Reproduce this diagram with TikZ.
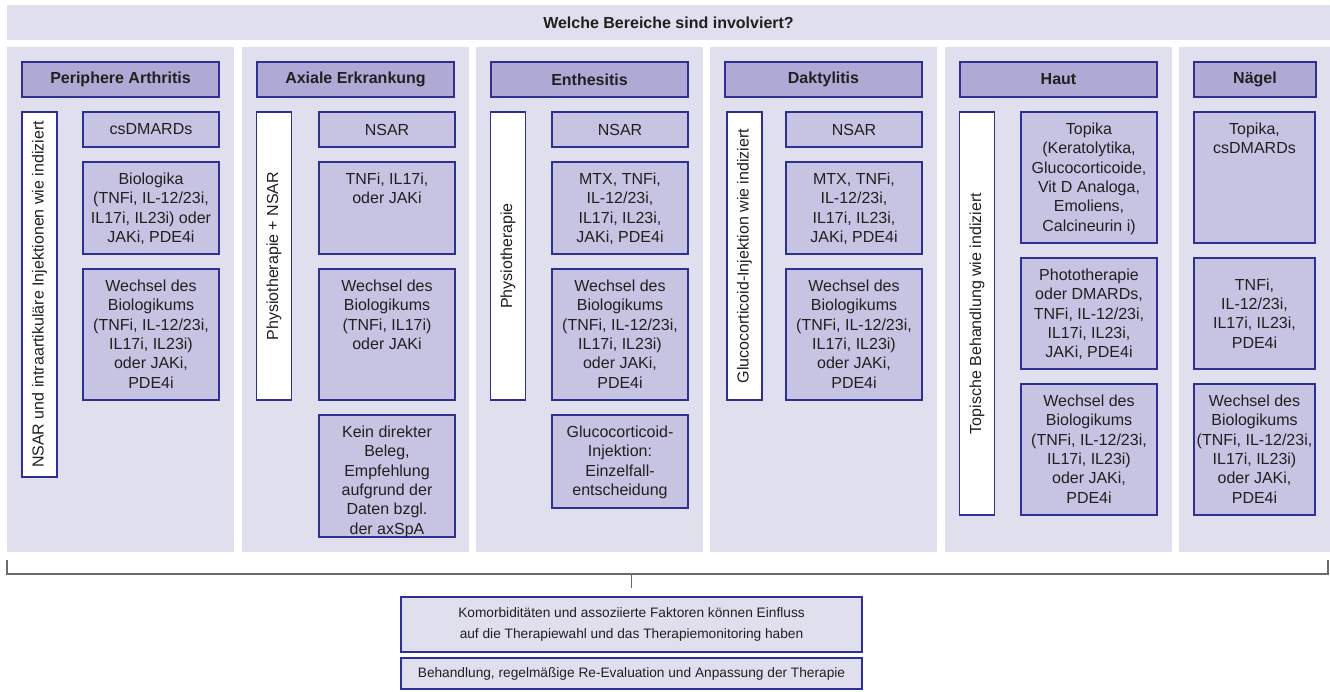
\documentclass[tikz,border=0pt]{standalone}
\usepackage{fontspec}
\setmainfont{Liberation Sans}
\definecolor{panelbg}{HTML}{DFDFEE}
\definecolor{headfill}{HTML}{AEAAD5}
\definecolor{cellfill}{HTML}{C6C4E2}
\definecolor{edgeblue}{HTML}{2E3192}
\definecolor{ink}{HTML}{231F20}
\definecolor{bracegray}{HTML}{6B6B6B}

\begin{document}
\begin{tikzpicture}[
    x=1pt, y=-1pt,
    every node/.style={font=\fontsize{16}{19.3}\selectfont, text=ink, align=center},
    % Column background
    panel/.style={rectangle, fill=panelbg, minimum width=227pt, minimum height=505pt,
                  inner sep=0pt},
    % Column header
    head/.style={rectangle, draw=edgeblue, line width=1.2pt, fill=headfill,
                 minimum width=197pt, minimum height=35pt, inner sep=0pt,
                 font=\fontsize{16}{19.3}\selectfont\bfseries},
    % Therapy cell
    cell/.style={rectangle, draw=edgeblue, line width=1.2pt, fill=cellfill,
                 minimum width=136pt, inner sep=0pt},
    celltext/.style={anchor=north, inner sep=0pt},
    % White side bar, text bottom to top
    sidebar/.style={rectangle, draw=edgeblue, line width=1.2pt, fill=white,
                    minimum height=35pt, inner sep=0pt, rotate=90},
    % Bottom notes
    note/.style={rectangle, draw=edgeblue, line width=1.2pt, fill=panelbg,
                 minimum width=461pt, inner sep=0pt,
                 font=\fontsize{13.7}{21.7}\selectfont},
    brace/.style={bracegray, line width=1.6pt},
    tick/.style={bracegray, line width=1pt}
]
\useasboundingbox (0,0) rectangle (1330,691);

% ========== Title ==========
\node[panel, minimum width=1323pt, minimum height=35pt,
      font=\fontsize{16}{19.3}\selectfont\bfseries] (title) at (668.5,22.5)
    {Welche Bereiche sind involviert?};

% ========== Columns ==========
\node[panel] (colpa) at (120.5,299.5) {};
\node[panel] (colax) at (355.5,299.5) {};
\node[panel] (colen) at (589.5,299.5) {};
\node[panel] (colda) at (823.5,299.5) {};
\node[panel] (colha) at (1058.5,299.5) {};
\node[panel, minimum width=151pt] (colna) at (1254.5,299.5) {};

% ========== Headers ==========
\node[head] (hpa) at (120.5,79.5) {Periphere Arthritis};
\node[head] (hax) at (355.5,79.5) {Axiale Erkrankung};
\node[head] (hen) at (589.5,79.5) {Enthesitis};
\node[head] (hda) at (823.5,79.5) {Daktylitis};
\node[head] (hha) at (1058.5,79.5) {Haut};
\node[head, minimum width=122pt] (hna) at (1255,79.5) {Nägel};

% ========== Side bars ==========
\node[sidebar, minimum width=365pt] (spa) at (39.5,294.5)
    {NSAR und intraartikuläre Injektionen wie indiziert};
\node[sidebar, minimum width=288pt] (sax) at (274,256) {Physiotherapie + NSAR};
\node[sidebar, minimum width=288pt] (sen) at (508,256) {Physiotherapie};
\node[sidebar, minimum width=288pt] (sda) at (744.5,256)
    {Glucocorticoid-Injektion wie indiziert};
\node[sidebar, minimum width=403pt] (sha) at (977,313.5)
    {Topische Behandlung wie indiziert};

% ========== Periphere Arthritis ==========
\node[cell, minimum height=35pt] (pa1) at (151,129.5) {csDMARDs};
\node[cell, minimum height=92pt] (pa2) at (151,208) {};
\node[celltext] (pa2t) at ([yshift=-11.4pt]pa2.north)
    {Biologika\\(TNFi, IL-12/23i,\\IL17i, IL23i) oder\\JAKi, PDE4i};
\node[cell, minimum height=131pt] (pa3) at (151,334.5) {};
\node[celltext] (pa3t) at ([yshift=-11.4pt]pa3.north)
    {Wechsel des\\Biologikums\\(TNFi, IL-12/23i,\\IL17i, IL23i)\\oder JAKi,\\PDE4i};

% ========== Axiale Erkrankung ==========
\node[cell, minimum height=35pt] (ax1) at (387,129.5) {NSAR};
\node[cell, minimum height=92pt] (ax2) at (387,208) {};
\node[celltext] (ax2t) at ([yshift=-11.4pt]ax2.north) {TNFi, IL17i,\\oder JAKi};
\node[cell, minimum height=131pt] (ax3) at (387,334.5) {};
\node[celltext] (ax3t) at ([yshift=-11.4pt]ax3.north)
    {Wechsel des\\Biologikums\\(TNFi, IL17i)\\oder JAKi};
\node[cell, minimum height=122pt] (ax4) at (387,476) {};
\node[celltext] (ax4t) at ([yshift=-11.4pt]ax4.north)
    {Kein direkter\\Beleg,\\Empfehlung\\aufgrund der\\Daten bzgl.\\der axSpA};

% ========== Enthesitis ==========
\node[cell, minimum height=35pt] (en1) at (620,129.5) {NSAR};
\node[cell, minimum height=92pt] (en2) at (620,208) {};
\node[celltext] (en2t) at ([yshift=-11.4pt]en2.north)
    {MTX, TNFi,\\IL-12/23i,\\IL17i, IL23i,\\JAKi, PDE4i};
\node[cell, minimum height=131pt] (en3) at (620,334.5) {};
\node[celltext] (en3t) at ([yshift=-11.4pt]en3.north)
    {Wechsel des\\Biologikums\\(TNFi, IL-12/23i,\\IL17i, IL23i)\\oder JAKi,\\PDE4i};
\node[cell, minimum height=93pt] (en4) at (620,461.5) {};
\node[celltext] (en4t) at ([yshift=-11.4pt]en4.north)
    {Glucocorticoid-\\Injektion:\\Einzelfall-\\entscheidung};

% ========== Daktylitis ==========
\node[cell, minimum height=35pt] (da1) at (854,129.5) {NSAR};
\node[cell, minimum height=92pt] (da2) at (854,208) {};
\node[celltext] (da2t) at ([yshift=-11.4pt]da2.north)
    {MTX, TNFi,\\IL-12/23i,\\IL17i, IL23i,\\JAKi, PDE4i};
\node[cell, minimum height=131pt] (da3) at (854,334.5) {};
\node[celltext] (da3t) at ([yshift=-11.4pt]da3.north)
    {Wechsel des\\Biologikums\\(TNFi, IL-12/23i,\\IL17i, IL23i)\\oder JAKi,\\PDE4i};

% ========== Haut ==========
\node[cell, minimum height=131pt] (ha1) at (1089,177.5) {};
\node[celltext] (ha1t) at ([yshift=-11.4pt]ha1.north)
    {Topika\\(Keratolytika,\\Glucocorticoide,\\Vit D Analoga,\\Emoliens,\\Calcineurin i)};
\node[cell, minimum height=111pt] (ha2) at (1089,313.5) {};
\node[celltext] (ha2t) at ([yshift=-11.4pt]ha2.north)
    {Phototherapie\\oder DMARDs,\\TNFi, IL-12/23i,\\IL17i, IL23i,\\JAKi, PDE4i};
\node[cell, minimum height=131pt] (ha3) at (1089,449.5) {};
\node[celltext] (ha3t) at ([yshift=-11.4pt]ha3.north)
    {Wechsel des\\Biologikums\\(TNFi, IL-12/23i,\\IL17i, IL23i)\\oder JAKi,\\PDE4i};

% ========== Nägel ==========
\node[cell, minimum width=121pt, minimum height=131pt] (na1) at (1254.5,177.5) {};
\node[celltext] (na1t) at ([yshift=-11.4pt]na1.north) {Topika,\\csDMARDs};
\node[cell, minimum width=121pt, minimum height=111pt] (na2) at (1254.5,313.5)
    {TNFi,\\IL-12/23i,\\IL17i, IL23i,\\PDE4i};
\node[cell, minimum width=121pt, minimum height=131pt] (na3) at (1254.5,449.5) {};
\node[celltext] (na3t) at ([yshift=-11.4pt]na3.north)
    {Wechsel des\\Biologikums\\(TNFi, IL-12/23i,\\IL17i, IL23i)\\oder JAKi,\\PDE4i};

% ========== Bottom notes ==========
\node[note, minimum height=55pt] (kom) at (631.5,624.5)
    {Komorbiditäten und assoziierte Faktoren können Einfluss\\auf die Therapiewahl und das Therapiemonitoring haben};
\node[note, minimum height=31pt] (beh) at (631.5,673.5)
    {Behandlung, regelmäßige Re-Evaluation und Anpassung der Therapie};

% ========== Bracket ==========
\coordinate (brl) at ([yshift=-8pt]colpa.south west);
\coordinate (brr) at ([xshift=-2pt, yshift=-8pt]colna.south east);
\draw[brace] (brl) -- ++(0,14) -| (brr);
\draw[tick] ([yshift=23pt]kom.north) -- ([yshift=8pt]kom.north);

\end{tikzpicture}
\end{document}
